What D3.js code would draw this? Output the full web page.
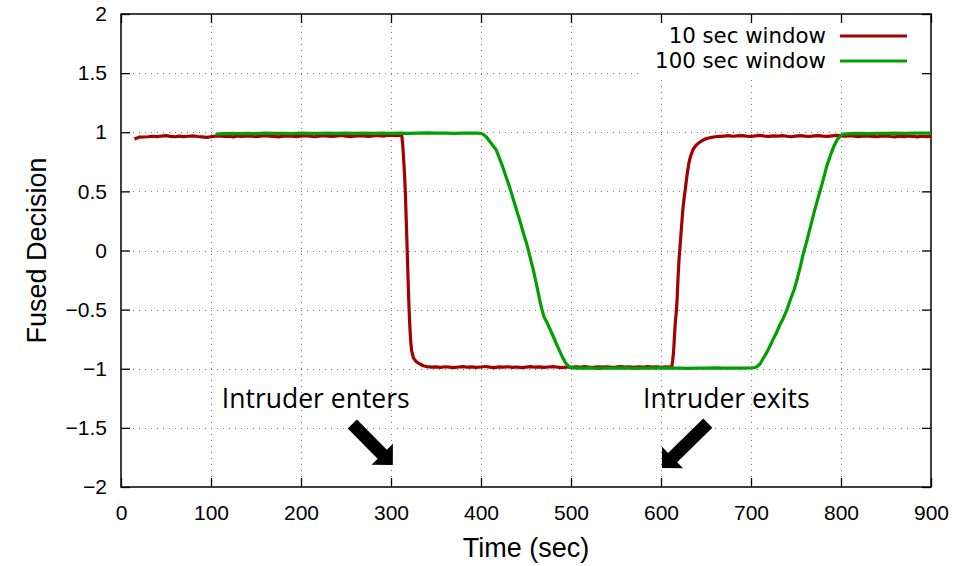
<!DOCTYPE html>
<html>
<head>
<meta charset="utf-8">
<script src="https://cdn.jsdelivr.net/npm/d3@7"></script>
<style>
  body { margin: 0; background: #fff; }
  svg { display: block; }
</style>
</head>
<body>
<div id="grafico"></div>
<script>
// 10 sec window (time, fused decision)
const fused10 = [
  [15, .943], [20, .958], [25, .960], [30, .962], [35, .966], [40, .963], [45, .968], [50, .972],
  [55, .965], [60, .962], [65, .967], [70, .963], [75, .966], [80, .969], [85, .964], [90, .961],
  [95, .957], [100, .962], [105, .967], [110, .970], [115, .964], [120, .966], [125, .961], [130, .968],
  [135, .964], [140, .970], [145, .966], [150, .962], [155, .967], [160, .972], [165, .968], [170, .965],
  [175, .961], [180, .966], [185, .970], [190, .967], [195, .963], [200, .968], [205, .972], [210, .966],
  [215, .962], [220, .967], [225, .971], [230, .968], [235, .964], [240, .969], [245, .973], [250, .967],
  [255, .963], [260, .968], [265, .972], [270, .969], [275, .965], [280, .970], [285, .974], [290, .968],
  [295, .971], [300, .975], [305, .972], [310, .974], [312, .970], [313, .900], [314, .780], [315, .650],
  [316, .480], [317, .240], [318, .000], [319, -.250], [320, -.480], [321, -.650], [322, -.780], [323, -.850],
  [325, -.910], [328, -.940], [332, -.960], [336, -.975], [340, -.982], [345, -.986],
  [350, -.984], [355, -.988], [360, -.983], [365, -.986], [370, -.990], [375, -.985], [380, -.982], [385, -.987],
  [390, -.984], [395, -.989], [400, -.985], [405, -.981], [410, -.986], [415, -.990], [420, -.984], [425, -.987],
  [430, -.983], [435, -.988], [440, -.985], [445, -.991], [450, -.986], [455, -.982], [460, -.987], [465, -.984],
  [470, -.989], [475, -.985], [480, -.982], [485, -.987], [490, -.990], [495, -.985], [500, -.988], [505, -.984],
  [510, -.987], [515, -.982], [520, -.986], [525, -.989], [530, -.984], [535, -.987], [540, -.983], [545, -.988],
  [550, -.985], [555, -.981], [560, -.986], [565, -.983], [570, -.988], [575, -.984], [580, -.987], [585, -.982],
  [590, -.986], [595, -.984], [600, -.988], [605, -.983], [610, -.986], [612, -.980],
  [613, -.930], [614, -.850], [615, -.720], [616, -.600], [617, -.520], [618, -.400], [619, -.220], [620, -.080],
  [621, .020], [622, .120], [623, .220], [624, .320], [625, .400], [627, .520], [629, .640], [631, .740],
  [633, .800], [636, .860], [639, .890], [642, .910], [646, .930], [650, .945], [655, .955], [660, .962],
  [665, .965], [670, .968], [675, .971], [680, .966], [685, .969], [690, .972], [695, .967], [700, .964],
  [705, .969], [710, .973], [715, .968], [720, .965], [725, .970], [730, .967], [735, .971], [740, .966],
  [745, .962], [750, .968], [755, .971], [760, .967], [765, .964], [770, .969], [775, .972], [780, .968],
  [785, .965], [790, .970], [795, .973], [800, .969], [805, .966], [810, .971], [815, .967], [820, .963],
  [825, .968], [830, .970], [835, .965], [840, .962], [845, .966], [850, .969], [855, .964], [860, .961],
  [865, .966], [870, .963], [875, .968], [880, .965], [885, .961], [890, .966], [895, .963], [900, .965]
];

// 100 sec window
const fused100 = [
  [105, .983], [110, .987], [115, .989], [120, .988], [125, .990], [130, .989], [140, .991], [150, .989],
  [160, .992], [170, .990], [180, .991], [190, .989], [200, .992], [210, .990], [220, .991], [230, .993],
  [240, .990], [250, .992], [260, .991], [270, .993], [280, .991], [290, .992], [300, .990], [310, .993],
  [320, .991], [330, .992], [340, .994], [350, .992], [360, .993], [370, .991], [380, .993], [390, .992],
  [398, .992], [402, .985], [406, .960], [410, .920], [414, .880], [417, .850], [420, .790], [424, .710],
  [428, .620], [432, .530], [436, .430], [440, .330], [444, .230], [447, .150], [451, .050], [455, -.070],
  [458, -.160], [462, -.300], [465, -.410], [467, -.480], [470, -.560], [474, -.620], [477, -.670], [481, -.740],
  [485, -.810], [488, -.860], [491, -.910], [494, -.950], [497, -.975], [500, -.990], [505, -.994],
  [510, -.995], [520, -.993], [530, -.996], [540, -.994], [550, -.995], [560, -.993], [570, -.996], [580, -.994],
  [590, -.995], [600, -.993], [610, -.995], [620, -.994], [630, -.996], [640, -.994], [650, -.995], [660, -.993],
  [670, -.995], [680, -.994], [690, -.995], [700, -.993], [704, -.990],
  [706, -.985], [710, -.960], [713, -.920], [717, -.870], [721, -.810], [724, -.760], [728, -.700], [732, -.630],
  [736, -.570], [740, -.500], [744, -.410], [748, -.330], [751, -.250], [755, -.130], [758, -.030], [762, .080],
  [766, .200], [770, .320], [774, .430], [777, .510], [781, .620], [784, .710], [788, .800], [792, .880],
  [796, .940], [800, .975], [803, .985], [810, .988], [820, .990], [830, .989], [840, .991], [850, .990],
  [860, .992], [870, .991], [880, .993], [890, .992], [900, .993]
];

const seriesNames = ['10 sec window', '100 sec window'];
const xTicks = [0, 100, 200, 300, 400, 500, 600, 700, 800, 900];
const yTicks = [-2, -1.5, -1, -0.5, 0, 0.5, 1, 1.5, 2];

// annotations in data units: label start + arrow tail/tip
const notes = [
  { text: 'Intruder enters', x: 112, y: -1.33, tail: [257, -1.467], tip: [302, -1.813] },
  { text: 'Intruder exits', x: 580, y: -1.33, tail: [652, -1.46], tip: [601, -1.84] }
];

const largura = 953, altura = 566;
const margem = { topo: 14, direita: 22, baixo: 79, esquerda: 121 };

const svg = d3.select('#grafico').append('svg')
  .attr('width', largura).attr('height', altura);

const x = d3.scaleLinear().domain([0, 900]).range([margem.esquerda, largura - margem.direita]);
const y = d3.scaleLinear().domain([-2, 2]).range([altura - margem.baixo, margem.topo]);

const x0 = x.range()[0], x1 = x.range()[1];
const yB = y.range()[0], yT = y.range()[1];

// dotted grid
const grid = svg.append('g').attr('stroke', '#777').attr('stroke-width', 1).attr('stroke-dasharray', '1,5');
grid.selectAll('.gx').data(xTicks.slice(1, -1)).join('line')
  .attr('x1', d => Math.round(x(d)) + 0.5).attr('x2', d => Math.round(x(d)) + 0.5)
  .attr('y1', yT).attr('y2', yB);
grid.selectAll('.gy').data(yTicks.slice(1, -1)).join('line')
  .attr('y1', d => Math.round(y(d)) + 0.5).attr('y2', d => Math.round(y(d)) + 0.5)
  .attr('x1', x0).attr('x2', x1);

// axes (gnuplot style, inward ticks, mirrored)
const fonteEixo = 'Liberation Sans, Arial, sans-serif';
const eixoX = svg.append('g').attr('transform', `translate(0,${yB})`)
  .call(d3.axisBottom(x).tickValues(xTicks).tickSizeInner(-9).tickSizeOuter(0).tickPadding(18));
const eixoY = svg.append('g').attr('transform', `translate(${x0},0)`)
  .call(d3.axisLeft(y).tickValues(yTicks).tickFormat(d3.format('')).tickSizeInner(-9).tickSizeOuter(0).tickPadding(14));
svg.append('g').attr('transform', `translate(0,${yT})`)
  .call(d3.axisTop(x).tickValues(xTicks).tickSizeInner(-9).tickSizeOuter(0).tickFormat(''));
svg.append('g').attr('transform', `translate(${x1},0)`)
  .call(d3.axisRight(y).tickValues(yTicks).tickSizeInner(-9).tickSizeOuter(0).tickFormat(''));
svg.selectAll('.domain').remove();
svg.selectAll('.tick line').attr('stroke', '#000').attr('stroke-width', 1.3);
[eixoX, eixoY].forEach(g => g.selectAll('text')
  .attr('font-family', fonteEixo).attr('font-size', 21).attr('fill', '#000'));

svg.append('rect')
  .attr('x', x0).attr('y', yT).attr('width', x1 - x0).attr('height', yB - yT)
  .attr('fill', 'none').attr('stroke', '#000').attr('stroke-width', 1.5);

// curves
const cores = ['#a30000', '#00a000'];
const linha = d3.line().x(d => x(d[0])).y(d => y(d[1]));
const plot = svg.append('g');
plot.append('path').datum(fused10)
  .attr('fill', 'none').attr('stroke', cores[0]).attr('stroke-width', 3.2).attr('stroke-linejoin', 'round')
  .attr('d', linha);
plot.append('path').datum(fused100)
  .attr('fill', 'none').attr('stroke', cores[1]).attr('stroke-width', 3.2).attr('stroke-linejoin', 'round')
  .attr('d', linha);

// legend (opaque box, no border)
const leg = svg.append('g');
leg.append('rect').attr('x', 640).attr('y', 25).attr('width', 280).attr('height', 52).attr('fill', '#fff');
seriesNames.forEach((nome, i) => {
  const ly = 36 + i * 25;
  leg.append('text').attr('x', 826).attr('y', ly).attr('dy', '0.35em')
    .attr('text-anchor', 'end').attr('font-family', 'DejaVu Sans, sans-serif').attr('font-size', 21.3)
    .text(nome);
  leg.append('line').attr('x1', 840).attr('x2', 907).attr('y1', ly).attr('y2', ly)
    .attr('stroke', cores[i]).attr('stroke-width', 3);
});

// axis titles
svg.append('text')
  .attr('x', (x0 + x1) / 2).attr('y', 557)
  .attr('text-anchor', 'middle').attr('font-family', fonteEixo).attr('font-size', 27)
  .text('Time (sec)');
svg.append('text')
  .attr('transform', `translate(46,${(yT + yB) / 2}) rotate(-90)`)
  .attr('text-anchor', 'middle').attr('font-family', fonteEixo).attr('font-size', 27)
  .text('Fused Decision');

// annotations with thick arrows
function seta(tail, tip) {
  const [ax, ay] = [x(tail[0]), y(tail[1])];
  const [bx, by] = [x(tip[0]), y(tip[1])];
  const len = Math.hypot(bx - ax, by - ay);
  const ux = (bx - ax) / len, uy = (by - ay) / len;
  const nx = -uy, ny = ux;
  const w = 6.5, hw = 15, hl = 15;
  const hx = bx - ux * hl, hy = by - uy * hl;
  const pts = [
    [ax + nx * w, ay + ny * w], [hx + nx * w, hy + ny * w], [hx + nx * hw, hy + ny * hw],
    [bx, by],
    [hx - nx * hw, hy - ny * hw], [hx - nx * w, hy - ny * w], [ax - nx * w, ay - ny * w]
  ];
  return 'M' + pts.map(p => p.join(',')).join('L') + 'Z';
}
notes.forEach(n => {
  svg.append('text').attr('x', x(n.x)).attr('y', y(n.y))
    .attr('font-family', 'Open Sans, sans-serif').attr('font-size', 26.5).attr('fill', '#000')
    .text(n.text);
  svg.append('path').attr('d', seta(n.tail, n.tip)).attr('fill', '#000');
});
</script>
</body>
</html>
